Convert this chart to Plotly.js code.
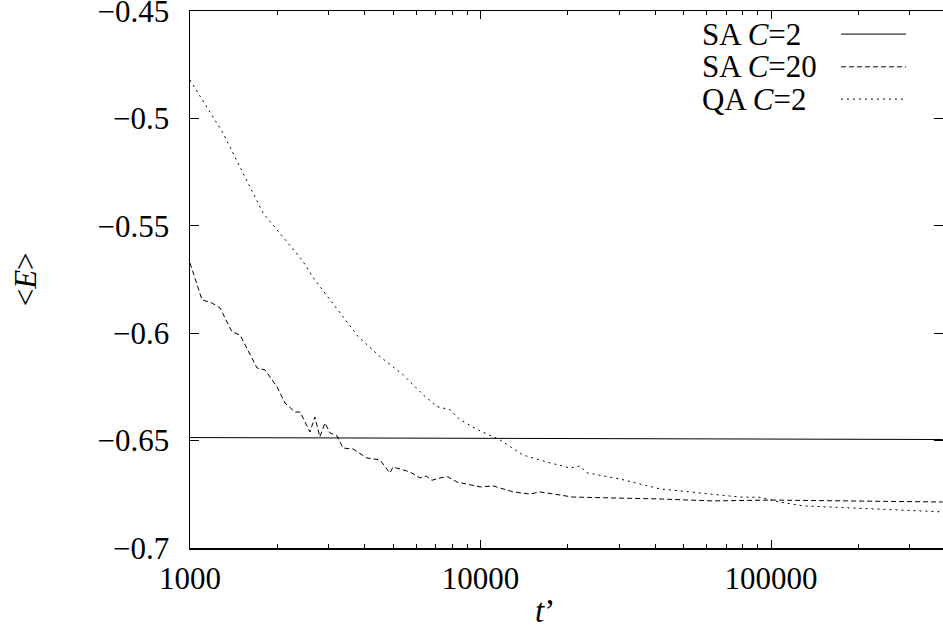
<!DOCTYPE html>
<html>
<head>
<meta charset="utf-8">
<script src="https://cdn.plot.ly/plotly-3.0.1.min.js"></script>
<style>html,body{margin:0;padding:0;background:#fff;}#chart{width:943px;height:632px;}</style>
</head>
<body>
<div id="chart"></div>
<script>
// ---- data ----
const seriesNames = ["SA <i>C</i>=2", "SA <i>C</i>=20", "QA <i>C</i>=2"];

const saC2_t = [1000, 3000, 10000, 30000, 100000, 390000];
const saC2_E = [-0.6486, -0.6488, -0.6490, -0.6492, -0.6494, -0.6495];

const saC20_t = [1000, 1100, 1190, 1269, 1395, 1486, 1701, 1812, 1993, 2123, 2298, 2393, 2588, 2691, 2800, 2916, 3035, 3206, 3364, 3641, 4064, 4506, 4877, 5000, 5715, 6190, 6500, 6800, 7260, 7700, 8300, 8800, 9430, 10000, 11040, 12950, 14790, 16000, 20800, 28600, 41500, 63100, 100000, 390000];
const saC20_E = [-0.5673, -0.5845, -0.5859, -0.5883, -0.5994, -0.6008, -0.6162, -0.6171, -0.6250, -0.6325, -0.6367, -0.6367, -0.6460, -0.6390, -0.6483, -0.6418, -0.6465, -0.6478, -0.6535, -0.6539, -0.6581, -0.6590, -0.6651, -0.6623, -0.6646, -0.6674, -0.6665, -0.6685, -0.6674, -0.6668, -0.6693, -0.6700, -0.6707, -0.6716, -0.6711, -0.6739, -0.6749, -0.6739, -0.6763, -0.6767, -0.6772, -0.6781, -0.6777, -0.6786];

const qaC2_t = [1000, 1299, 1783, 2430, 2651, 3206, 3787, 4508, 5410, 6339, 7083, 7853, 8497, 9723, 11670, 14000, 16930, 20330, 22000, 23200, 30200, 41500, 57000, 78200, 91600, 107000, 128800, 156000, 207000, 271000, 390000];
const qaC2_E = [-0.4821, -0.5068, -0.5440, -0.5659, -0.5740, -0.5889, -0.6015, -0.6109, -0.6193, -0.6286, -0.6342, -0.6356, -0.6402, -0.6448, -0.6497, -0.6567, -0.6600, -0.6628, -0.6618, -0.6650, -0.6679, -0.6725, -0.6745, -0.6763, -0.6764, -0.6786, -0.6804, -0.6809, -0.6818, -0.6823, -0.6832];

const xTickVals = [1000, 10000, 100000];
const xTickText = ["1000", "10000", "100000"];
const xMinorVals = [2000,3000,4000,5000,6000,7000,8000,9000,20000,30000,40000,50000,60000,70000,80000,90000,200000,300000];
const yTickVals = [-0.7, -0.65, -0.6, -0.55, -0.5, -0.45];
const yTickText = ["\u22120.7", "\u22120.65", "\u22120.6", "\u22120.55", "\u22120.5", "\u22120.45"];

// ---- styling ----
const FONT = "Liberation Serif";
const dashes = ["solid", "5px,3px", "2px,4px"];

const traces = [
  {x: saC2_t, y: saC2_E, name: seriesNames[0], mode: "lines", line: {color: "#000", width: 1, dash: dashes[0]}},
  {x: saC20_t, y: saC20_E, name: seriesNames[1], mode: "lines", line: {color: "#000", width: 1, dash: dashes[1]}},
  {x: qaC2_t, y: qaC2_E, name: seriesNames[2], mode: "lines", line: {color: "#000", width: 1, dash: dashes[2]}}
];

// legend drawn manually: text on the left, line sample on the right
const legRowsY = [0.957, 0.896, 0.836];
const annotations = [];
const shapes = [];
seriesNames.forEach((n, i) => {
  annotations.push({xref: "paper", yref: "paper", x: 0.677, y: legRowsY[i], xanchor: "left", yanchor: "middle",
    text: n, showarrow: false, font: {family: FONT, size: 31, color: "#000"}});
  shapes.push({type: "line", xref: "paper", yref: "paper", x0: 0.8645, x1: 0.9509, y0: legRowsY[i], y1: legRowsY[i],
    line: {color: "#000", width: 1, dash: dashes[i]}});
});
// axis titles
annotations.push({xref: "paper", yref: "paper", x: -0.218, y: 0.5, xanchor: "center", yanchor: "middle", textangle: -90,
  text: "&lt;<i>E</i>&gt;", showarrow: false, font: {family: FONT, size: 31, color: "#000"}});
annotations.push({xref: "paper", yref: "paper", x: 0.472, y: -0.118, xanchor: "center", yanchor: "middle",
  text: "<i>t</i>\u2019", showarrow: false, font: {family: FONT, size: 33, color: "#000"}});

const layout = {
  width: 943, height: 632,
  margin: {l: 190, r: 0, t: 11, b: 84, pad: 0},
  paper_bgcolor: "#fff", plot_bgcolor: "#fff",
  showlegend: false,
  font: {family: FONT, size: 31, color: "#000"},
  xaxis: {
    type: "log", range: [3, 5.592], tickmode: "array", tickvals: xTickVals, ticktext: xTickText,
    ticks: "inside", ticklen: 8, tickwidth: 1, tickcolor: "#000",
    minor: {tickmode: "array", tickvals: xMinorVals, ticks: "inside", ticklen: 4, tickwidth: 1, tickcolor: "#000", showgrid: false},
    showline: true, linecolor: "#000", linewidth: 1.5, mirror: "ticks", showgrid: false, zeroline: false,
    tickfont: {family: FONT, size: 31, color: "#000"}, ticklabelstandoff: 2, ticklabeloverflow: "allow"
  },
  yaxis: {
    range: [-0.70002, -0.44998], tickmode: "array", tickvals: yTickVals, ticktext: yTickText,
    ticks: "inside", ticklen: 9, tickwidth: 1, tickcolor: "#000",
    showline: true, linecolor: "#000", linewidth: 1.5, mirror: "ticks", showgrid: false, zeroline: false,
    tickfont: {family: FONT, size: 31, color: "#000"}, ticklabelstandoff: 13, ticklabeloverflow: "allow"
  },
  annotations: annotations,
  shapes: shapes
};

Plotly.newPlot("chart", traces, layout, {staticPlot: true, displayModeBar: false});
</script>
</body>
</html>
